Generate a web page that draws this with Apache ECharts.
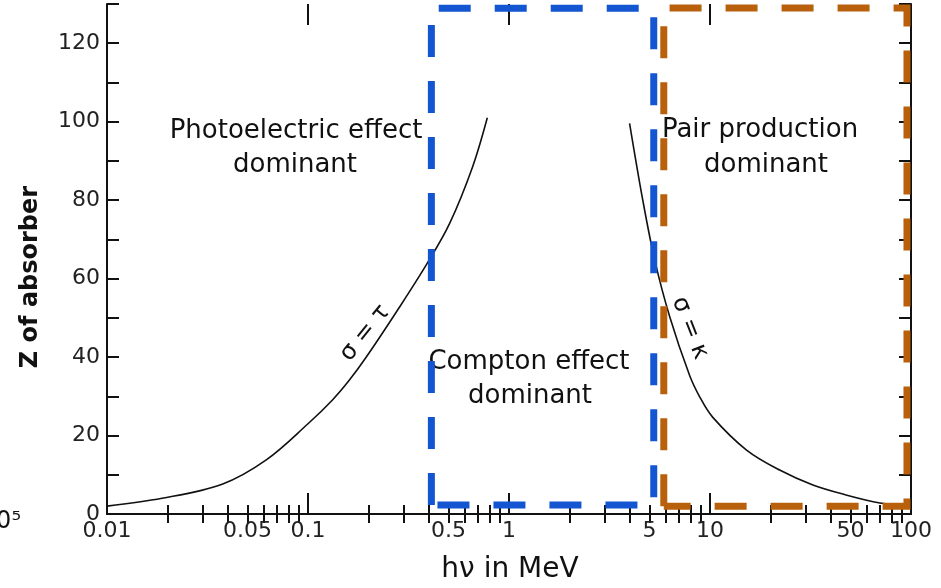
<!DOCTYPE html>
<html>
<head>
<meta charset="utf-8">
<script src="https://cdn.jsdelivr.net/npm/echarts@6/dist/echarts.min.js"></script>
<style>
  html, body { margin: 0; padding: 0; background: #fff; }
  #main { width: 941px; height: 588px; }
</style>
</head>
<body>
<div id="main"></div>
<script>
// photon energy (MeV) and Z
const tauEnergy = [0.01, 0.0188, 0.0374, 0.062, 0.1, 0.132, 0.16, 0.195, 0.285, 0.393, 0.506, 0.658, 0.78];
const tauZ      = [2, 4, 7.6, 13.8, 23, 29, 34, 40, 52.7, 64, 74, 88.4, 101];

const kappaEnergy = [3.98, 4.63, 5.31, 6.31, 7.92, 8.9, 10.3, 15.2, 22.2, 32.5, 48, 70, 88];
const kappaZ      = [99.6, 80, 64.7, 50.2, 35.3, 29.8, 24.7, 16.3, 11.2, 7.4, 4.8, 2.8, 2.3];

// dashed region boxes: [min, max] energy and [min, max] Z
const comptonBoxEnergy = [0.411, 5.25];
const comptonBoxZ      = [2.3, 128.9];
const pairBoxEnergy    = [5.89, 95.5];
const pairBoxZ         = [2, 129];

// axis ticks and labels
const xLabelValues = [0.01, 0.05, 0.1, 0.5, 1, 5, 10, 50, 100];
const xMajorTicks  = [0.01, 0.1, 1, 10, 100];
const xMinorTicks  = [
  0.02, 0.03, 0.04, 0.05, 0.06, 0.07, 0.08, 0.09,
  0.2, 0.3, 0.4, 0.5, 0.6, 0.7, 0.8, 0.9,
  2, 3, 4, 5, 6, 7, 8, 9,
  20, 30, 40, 50, 60, 70, 80, 90
];

const zip = (xs, ys) => xs.map((x, i) => [x, ys[i]]);
const box = (ex, ez) => [
  [ex[0], ez[0]], [ex[0], ez[1]], [ex[1], ez[1]], [ex[1], ez[0]], [ex[0], ez[0]]
];

const FONT = '"DejaVu Sans", sans-serif';
const AXIS_LINE = { show: true, lineStyle: { color: '#111', width: 2 } };

const label = (text, x, y, size, extra) => ({
  type: 'text', x, y, ...extra,
  style: { text, font: size + 'px ' + FONT, fill: '#111', textAlign: 'center', textVerticalAlign: 'middle' }
});

const myChart = echarts.init(document.getElementById('main'));

const gridRect = { left: 107, right: 30, top: 4, bottom: 74 };

const option = {
  animation: false,
  backgroundColor: '#fff',
  grid: [
    { ...gridRect },
    { ...gridRect }
  ],
  xAxis: [
    {
      type: 'log', logBase: 10, min: 0.01, max: 100, gridIndex: 0, position: 'bottom',
      axisLine: AXIS_LINE,
      axisTick: { inside: true, length: 9, lineStyle: { color: '#111', width: 2 }, customValues: xMinorTicks },
      axisLabel: {
        customValues: xLabelValues,
        color: '#222', fontSize: 22, fontFamily: FONT, margin: 6,
        formatter: v => String(parseFloat(Number(v).toPrecision(3)))
      },
      splitLine: { show: false },
      minorTick: { show: false }
    },
    {
      type: 'log', logBase: 10, min: 0.01, max: 100, gridIndex: 0, position: 'top',
      axisLine: AXIS_LINE,
      axisTick: { inside: true, length: 9, lineStyle: { color: '#111', width: 2 }, customValues: xMinorTicks },
      axisLabel: { show: false },
      splitLine: { show: false }
    },
    // long decade ticks
    {
      type: 'log', logBase: 10, min: 0.01, max: 100, gridIndex: 1, position: 'bottom',
      axisLine: { show: false },
      axisTick: { inside: true, length: 21, lineStyle: { color: '#111', width: 2 }, customValues: xMajorTicks },
      axisLabel: { show: false },
      splitLine: { show: false }
    },
    {
      type: 'log', logBase: 10, min: 0.01, max: 100, gridIndex: 1, position: 'top',
      axisLine: { show: false },
      axisTick: { inside: true, length: 21, lineStyle: { color: '#111', width: 2 }, customValues: xMajorTicks },
      axisLabel: { show: false },
      splitLine: { show: false }
    }
  ],
  yAxis: [
    {
      type: 'value', min: 0, max: 130, interval: 10, gridIndex: 0, position: 'left',
      axisLine: AXIS_LINE,
      axisTick: { inside: true, length: 12, lineStyle: { color: '#111', width: 2 } },
      axisLabel: {
        color: '#222', fontSize: 22, fontFamily: FONT, margin: 7,
        formatter: v => (v % 20 === 0 && v <= 120 ? String(v) : '')
      },
      splitLine: { show: false }
    },
    {
      type: 'value', min: 0, max: 130, interval: 10, gridIndex: 0, position: 'right',
      axisLine: AXIS_LINE,
      axisTick: { inside: true, length: 12, lineStyle: { color: '#111', width: 2 } },
      axisLabel: { show: false },
      splitLine: { show: false }
    },
    {
      type: 'value', min: 0, max: 130, gridIndex: 1, show: false
    }
  ],
  graphic: [
    label('Photoelectric effect', 296, 131, 26),
    label('dominant', 295, 165, 26),
    label('Compton effect', 529, 362, 26),
    label('dominant', 530, 396, 26),
    label('Pair production', 760, 130, 26),
    label('dominant', 766, 165, 26),
    // curve labels
    label('σ = τ', 365, 333, 24, { rotation: 0.89 }),
    label('σ = κ', 690, 328, 24, { rotation: -1.2 }),
    // axis titles
    {
      type: 'text', x: 31, y: 277, rotation: Math.PI / 2,
      style: { text: 'Z of absorber', font: 'bold 24px ' + FONT, fill: '#111', textAlign: 'center', textVerticalAlign: 'middle' }
    },
    label('hν in MeV', 510, 570, 28),
    // stray fragment at the lower left edge of the picture
    {
      type: 'text', x: 21, y: 522,
      style: { text: '10⁵', font: '24px ' + FONT, fill: '#111', textAlign: 'right', textVerticalAlign: 'middle' }
    }
  ],
  series: [
    {
      name: 'σ=τ', type: 'line', xAxisIndex: 0, yAxisIndex: 0,
      data: zip(tauEnergy, tauZ), smooth: 0.35, symbol: 'none',
      lineStyle: { color: '#111', width: 1.6 }, z: 2
    },
    {
      name: 'σ=κ', type: 'line', xAxisIndex: 0, yAxisIndex: 0,
      data: zip(kappaEnergy, kappaZ), smooth: 0.35, symbol: 'none',
      lineStyle: { color: '#111', width: 1.6 }, z: 2
    },
    {
      name: 'Compton', type: 'line', xAxisIndex: 0, yAxisIndex: 0,
      data: box(comptonBoxEnergy, comptonBoxZ), symbol: 'none', silent: true,
      lineStyle: { color: '#1456d2', width: 7, type: [32, 24], cap: 'butt', join: 'miter' }, z: 5
    },
    {
      name: 'Pair', type: 'line', xAxisIndex: 0, yAxisIndex: 0,
      data: box(pairBoxEnergy, pairBoxZ), symbol: 'none', silent: true,
      lineStyle: { color: '#b8600c', width: 7, type: [32, 24], cap: 'butt', join: 'miter' }, z: 4
    }
  ]
};

myChart.setOption(option);
</script>
</body>
</html>
